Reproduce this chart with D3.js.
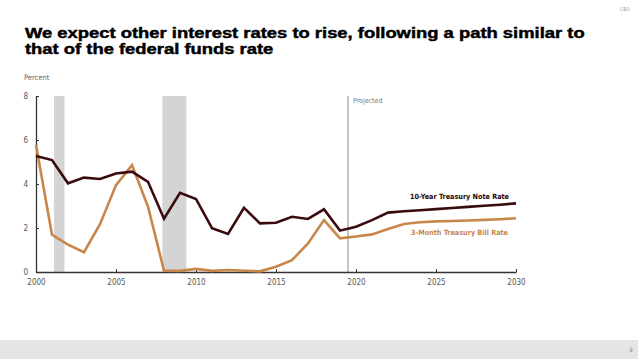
<!DOCTYPE html>
<html>
<head>
<meta charset="utf-8">
<script src="https://cdn.jsdelivr.net/npm/d3@7"></script>
<style>
  body { margin: 0; background: #fff; }
  svg { display: block; }
  .tick text { font-family: "Liberation Sans Narrow", "DejaVu Sans Condensed", sans-serif; }
</style>
</head>
<body>
<svg id="chart"></svg>
<script>
// annual values, percent
const years = d3.range(2000, 2031)
const tenYear = [5.27, 5.09, 4.03, 4.29, 4.23, 4.48, 4.56, 4.10, 2.42, 3.60,
                 3.32, 1.99, 1.73, 2.92, 2.21, 2.24, 2.51, 2.41, 2.85, 1.88,
                 2.06, 2.36, 2.70, 2.76, 2.81, 2.86, 2.91, 2.96, 3.01, 3.06, 3.12]
const threeMonth = [5.77, 1.69, 1.24, 0.90, 2.17, 3.95, 4.86, 2.97, 0.06, 0.05,
                    0.14, 0.05, 0.09, 0.06, 0.03, 0.24, 0.54, 1.30, 2.36, 1.53,
                    1.61, 1.71, 1.95, 2.18, 2.26, 2.30, 2.32, 2.34, 2.37, 2.40, 2.44]
const recessions = [[2001.12, 2001.78], [2007.9, 2009.4]]
const projectedStart = 2019.5
const xTicks = [2000, 2005, 2010, 2015, 2020, 2025, 2030]
const yTicks = [0, 2, 4, 6, 8]
const titleLines = ['We expect other interest rates to rise, following a path similar to',
                    'that of the federal funds rate']

const W = 638, H = 359
const margin = {top: 96, right: 122, bottom: 87, left: 36}
const narrow = '"Liberation Sans Narrow", "DejaVu Sans Condensed", sans-serif'

const svg = d3.select('#chart').attr('width', W).attr('height', H)

const x = d3.scaleLinear().domain([2000, 2030]).range([margin.left, W - margin.right])
const y = d3.scaleLinear().domain([0, 8]).range([H - margin.bottom, margin.top])

// title + small page furniture
svg.append('text')
  .attr('x', 620).attr('y', 11)
  .style('font-family', narrow).style('font-size', '5px').style('fill', '#999')
  .text('CBO')

// the slide font is a wide heavy grotesque, so stretch the bold sans to its width
svg.append('g').selectAll('text')
  .data(titleLines)
  .join('text')
    .attr('x', 25)
    .attr('y', (d, i) => 37.5 + i * 16.3)
    .style('font-family', '"Liberation Sans", Arial, sans-serif')
    .style('font-weight', 'bold')
    .style('font-size', '14.6px')
    .style('fill', '#000')
    .style('stroke', '#000')
    .style('stroke-width', 0.45)
    .text(d => d)
    .each(function() {
      const w = this.getComputedTextLength()
      d3.select(this).attr('textLength', w * 1.26).attr('lengthAdjust', 'spacingAndGlyphs')
    })

svg.append('rect')
  .attr('x', 0).attr('y', 340).attr('width', W).attr('height', H - 340)
  .attr('fill', '#e5e5e5')
svg.append('text')
  .attr('x', 631).attr('y', 352).attr('text-anchor', 'middle')
  .style('font-family', narrow).style('font-size', '6px').style('fill', '#888')
  .text('9')

// recession shading
svg.append('g')
  .attr('fill', '#d4d4d4')
  .selectAll('rect')
  .data(recessions)
  .join('rect')
    .attr('x', d => x(d[0]))
    .attr('y', y(8))
    .attr('width', d => x(d[1]) - x(d[0]))
    .attr('height', y(0) - y(8))

// projected divider
svg.append('line')
  .attr('x1', x(projectedStart)).attr('x2', x(projectedStart))
  .attr('y1', y(8)).attr('y2', y(0))
  .attr('stroke', '#8a8a8a').attr('stroke-width', 1)
svg.append('text')
  .attr('x', x(projectedStart) + 5).attr('y', y(8) + 6.5)
  .style('font-family', narrow).style('font-size', '7px').style('fill', '#777')
  .text('Projected')

svg.append('text')
  .attr('x', 24).attr('y', 80)
  .style('font-family', narrow).style('font-size', '7.5px').style('fill', '#666')
  .text('Percent')

// axes
const xAxis = svg.append('g')
  .attr('transform', 'translate(0,' + y(0) + ')')
  .call(d3.axisBottom(x).tickValues(xTicks).tickFormat(d3.format('d')).tickSizeInner(-3).tickSizeOuter(0).tickPadding(7))
xAxis.select('.domain').attr('stroke', '#333').attr('stroke-width', 1.3)
xAxis.selectAll('.tick line').attr('stroke', '#333')
xAxis.selectAll('.tick text').style('font-size', '8px').style('fill', '#555')

const yAxis = svg.append('g')
  .attr('transform', 'translate(' + margin.left + ',0)')
  .call(d3.axisLeft(y).tickValues(yTicks).tickSizeInner(-3).tickSizeOuter(0).tickPadding(8))
yAxis.select('.domain').attr('stroke', '#333').attr('stroke-width', 1.3)
yAxis.selectAll('.tick line').attr('stroke', '#333')
yAxis.selectAll('.tick text').style('font-size', '8px').style('fill', '#555')

// lines
const line = d3.line()
  .x((d, i) => x(years[i]))
  .y(d => y(d))

svg.append('path')
  .datum(threeMonth)
  .attr('d', line)
  .attr('fill', 'none')
  .attr('stroke', '#c8864a')
  .attr('stroke-width', 2.6)
  .attr('stroke-linejoin', 'miter')

svg.append('path')
  .datum(tenYear)
  .attr('d', line)
  .attr('fill', 'none')
  .attr('stroke', '#3a0a0c')
  .attr('stroke-width', 2.6)
  .attr('stroke-linejoin', 'miter')

// series labels
svg.append('text')
  .attr('x', 509).attr('y', 199).attr('text-anchor', 'end')
  .style('font-family', narrow).style('font-weight', 'bold').style('font-size', '7.2px')
  .style('fill', '#2a0608')
  .text('10-Year Treasury Note Rate')

svg.append('text')
  .attr('x', 508).attr('y', 235).attr('text-anchor', 'end')
  .style('font-family', narrow).style('font-weight', 'bold').style('font-size', '7.2px')
  .style('fill', '#c8864a')
  .text('3-Month Treasury Bill Rate')
</script>
</body>
</html>
